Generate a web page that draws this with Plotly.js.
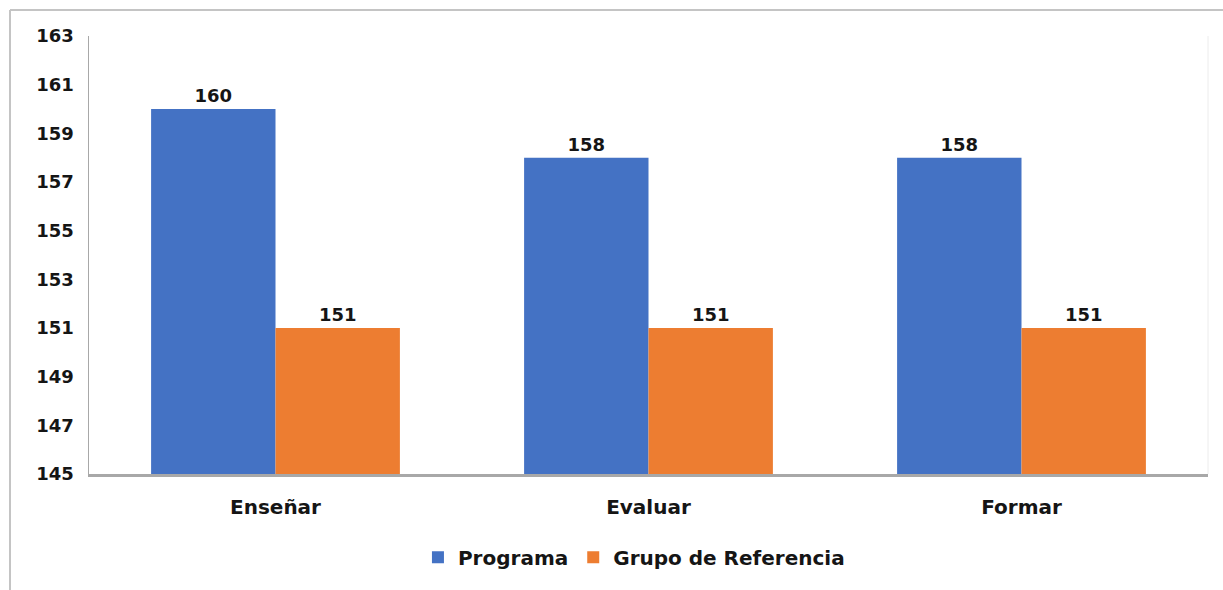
<!DOCTYPE html>
<html>
<head>
<meta charset="utf-8">
<script src="https://cdn.plot.ly/plotly-3.0.1.min.js"></script>
<style>
  html, body { margin: 0; padding: 0; background: #ffffff; }
  #chart { width: 1223px; height: 590px; }
</style>
</head>
<body>
<div id="chart"></div>
<script>
const categories = ["Enseñar", "Evaluar", "Formar"];
const seriesNames = ["Programa", "Grupo de Referencia"];
const programa = [160, 158, 158];
const grupoReferencia = [151, 151, 151];
const yTickValues = [145, 147, 149, 151, 153, 155, 157, 159, 161, 163];

const FONT = "DejaVu Sans, Arial, sans-serif";
const TEXT_COLOR = "#151515";

const traces = [
  {
    type: "bar",
    name: seriesNames[0],
    x: categories,
    y: programa,
    marker: { color: "#4472C4" },
    text: programa.map(String),
    textposition: "outside",
    textfont: { family: FONT, size: 18, weight: "bold", color: TEXT_COLOR },
    cliponaxis: false,
    hoverinfo: "x+y"
  },
  {
    type: "bar",
    name: seriesNames[1],
    x: categories,
    y: grupoReferencia,
    marker: { color: "#ED7D31" },
    text: grupoReferencia.map(String),
    textposition: "outside",
    textfont: { family: FONT, size: 18, weight: "bold", color: TEXT_COLOR },
    cliponaxis: false,
    hoverinfo: "x+y"
  }
];

const layout = {
  width: 1223,
  height: 590,
  margin: { l: 89, r: 15, t: 36, b: 116 },
  paper_bgcolor: "#ffffff",
  plot_bgcolor: "#ffffff",
  barmode: "group",
  bargap: 0.333,
  bargroupgap: 0,
  showlegend: true,
  font: { family: FONT, size: 18, weight: "bold", color: TEXT_COLOR },
  xaxis: {
    type: "category",
    showline: true,
    linecolor: "#a8a8a8",
    linewidth: 2.5,
    showgrid: false,
    zeroline: false,
    ticks: "outside",
    ticklen: 13,
    tickcolor: "rgba(0,0,0,0)",
    tickfont: { family: FONT, size: 20, weight: "bold", color: TEXT_COLOR },
    fixedrange: true
  },
  yaxis: {
    range: [145, 163],
    tickvals: yTickValues,
    ticktext: yTickValues.map(String),
    showline: true,
    linecolor: "#a8a8a8",
    linewidth: 1.5,
    showgrid: false,
    zeroline: false,
    ticks: "outside",
    ticklen: 10,
    tickcolor: "rgba(0,0,0,0)",
    tickfont: { family: FONT, size: 18, weight: "bold", color: TEXT_COLOR },
    fixedrange: true
  },
  legend: {
    orientation: "h",
    x: 0.487,
    xanchor: "center",
    y: -0.19,
    yanchor: "middle",
    font: { family: FONT, size: 20, weight: "bold", color: TEXT_COLOR },
    itemwidth: 30,
    bgcolor: "rgba(0,0,0,0)"
  },
  shapes: [
    { type: "line", xref: "paper", yref: "paper",
      x0: (10 - 89) / 1119, x1: (1230 - 89) / 1119,
      y0: (474 - 10) / 438, y1: (474 - 10) / 438,
      line: { color: "#c4c4c4", width: 2 } },
    { type: "line", xref: "paper", yref: "paper",
      x0: (10 - 89) / 1119, x1: (10 - 89) / 1119,
      y0: (474 - 10) / 438, y1: (474 - 600) / 438,
      line: { color: "#c4c4c4", width: 2 } },
    { type: "line", xref: "paper", yref: "paper",
      x0: 1, x1: 1, y0: 0, y1: 1,
      line: { color: "#ececec", width: 1 } }
  ]
};

Plotly.newPlot("chart", traces, layout, { displayModeBar: false, staticPlot: true });
</script>
</body>
</html>
